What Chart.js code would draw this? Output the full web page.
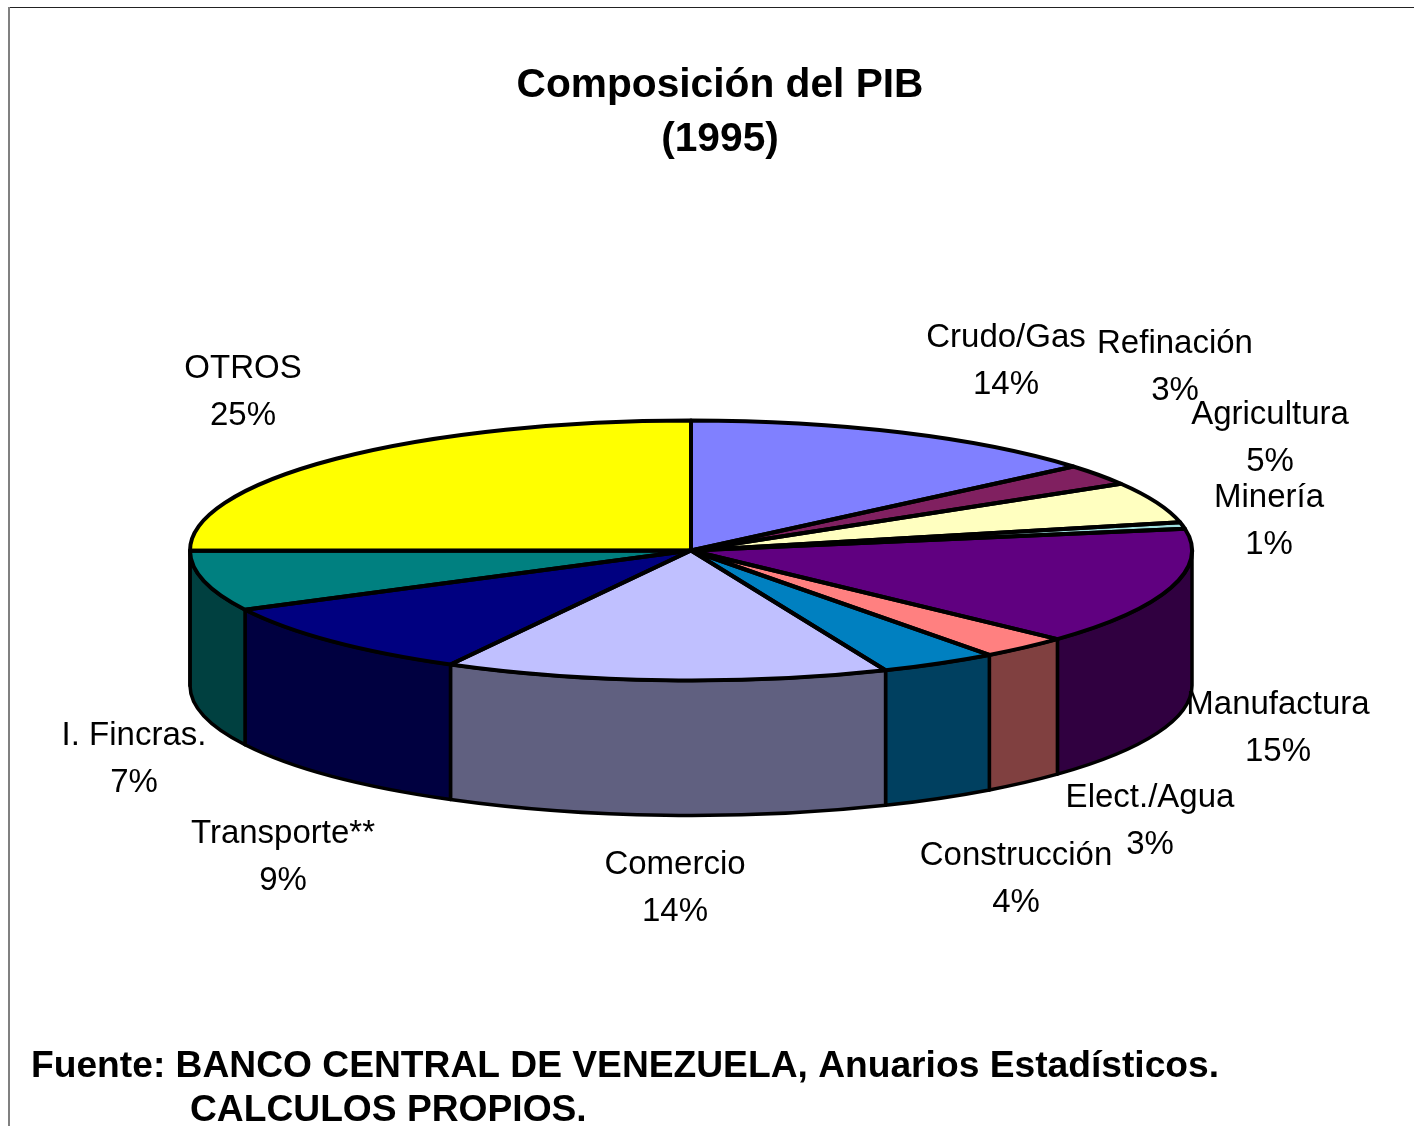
<!DOCTYPE html>
<html lang="es">
<head>
<meta charset="utf-8">
<title>Composición del PIB (1995)</title>
<script src="https://cdn.jsdelivr.net/npm/chart.js@4"></script>
<style>
html,body{margin:0;padding:0;background:#fff;overflow:hidden;width:1414px;height:1126px}
canvas{display:block;position:absolute;left:0;top:0}
</style>
</head>
<body>
<canvas id="c" width="1440" height="1126"></canvas>
<script>
const categories = ['Crudo/Gas','Refinación','Agricultura','Minería','Manufactura','Elect./Agua','Construcción','Comercio','Transporte**','I. Fincras.','OTROS'];
const shareValues = [13.8,2.6,5.1,0.8,14.6,2.9,3.8,14.3,9.49,7.49,25.0];
const topColors = ['#8080FF','#802060','#FFFFC0','#A0E0E0','#600080','#FF8080','#0080C0','#C0C0FF','#000080','#008080','#FFFF00'];
const sideColors = ['#404080','#401030','#808060','#507070','#300040','#804040','#004060','#606080','#000040','#004040','#808000'];
const titleLines = ['Composición del PIB','(1995)'];
const sourceLines = ['Fuente: BANCO CENTRAL DE VENEZUELA, Anuarios Estadísticos.','CALCULOS PROPIOS.'];

// layout only
const disc = {cx:691, cy:550.5, rx:501, ry:130, depth:135};
const labelAnchors = [[1006,338],[1175,344],[1270,415],[1269,498],[1278,705],[1150,798],[1016,856],[675,865],[283,834],[134,736],[243,369]];
const FONT = '"Liberation Sans", Arial, sans-serif';

const pie3d = {
  id:'pie3d',
  beforeDatasetsDraw(chart){
    const ctx = chart.ctx, arcs = chart.getDatasetMeta(0).data;
    // frame
    ctx.save();
    ctx.fillStyle='#222'; ctx.fillRect(8,7,1440,1);
    ctx.fillStyle='#808080'; ctx.fillRect(8,7,2,1126);
    // side walls
    ctx.lineWidth=3.5; ctx.strokeStyle='#000'; ctx.lineJoin='round';
    arcs.forEach((arc,i)=>{
      const a0=Math.max(arc.startAngle,0), a1=Math.min(arc.endAngle,Math.PI);
      if(a1<=a0) return;
      ctx.beginPath();
      ctx.ellipse(disc.cx,disc.cy,disc.rx,disc.ry,0,a0,a1);
      ctx.ellipse(disc.cx,disc.cy+disc.depth,disc.rx,disc.ry,0,a1,a0,true);
      ctx.closePath();
      ctx.fillStyle=sideColors[i];
      ctx.fill(); ctx.stroke();
    });
    ctx.restore();
    // squash the library's arcs into the top face
    const a=arcs[0], sx=disc.rx/a.outerRadius, sy=disc.ry/a.outerRadius;
    ctx.save();
    ctx.translate(disc.cx-a.x*sx, disc.cy-a.y*sy);
    ctx.scale(sx,sy);
  },
  afterDatasetsDraw(chart){
    const ctx = chart.ctx, arcs = chart.getDatasetMeta(0).data;
    ctx.restore();
    ctx.save();
    ctx.lineWidth=4; ctx.strokeStyle='#000'; ctx.lineJoin='round';
    arcs.forEach(arc=>{
      ctx.beginPath();
      ctx.moveTo(disc.cx,disc.cy);
      ctx.ellipse(disc.cx,disc.cy,disc.rx,disc.ry,0,arc.startAngle,arc.endAngle);
      ctx.closePath();
      ctx.stroke();
    });
    // data labels
    ctx.fillStyle='#000'; ctx.textAlign='center'; ctx.textBaseline='middle';
    ctx.font='33px '+FONT;
    categories.forEach((name,i)=>{
      const [x,y]=labelAnchors[i];
      ctx.fillText(name,x,y);
      ctx.fillText(Math.round(shareValues[i])+'%',x,y+47);
    });
    // source note
    ctx.textAlign='left';
    ctx.font='bold 37.2px '+FONT;
    ctx.fillText(sourceLines[0],31,1067);
    ctx.fillText(sourceLines[1],190,1111);
    ctx.restore();
  }
};

new Chart(document.getElementById('c'),{
  type:'pie',
  data:{labels:categories,datasets:[{data:shareValues,backgroundColor:topColors,borderWidth:0,hoverOffset:0}]},
  options:{
    responsive:false,
    animation:false,
    devicePixelRatio:1,
    layout:{padding:0},
    plugins:{
      legend:{display:false},
      tooltip:{enabled:false},
      title:{display:true,text:titleLines,color:'#000',
        font:{family:FONT,size:40.7,weight:'bold',lineHeight:1.33},
        padding:{top:59,bottom:10}}
    }
  },
  plugins:[pie3d]
});
</script>
</body>
</html>
